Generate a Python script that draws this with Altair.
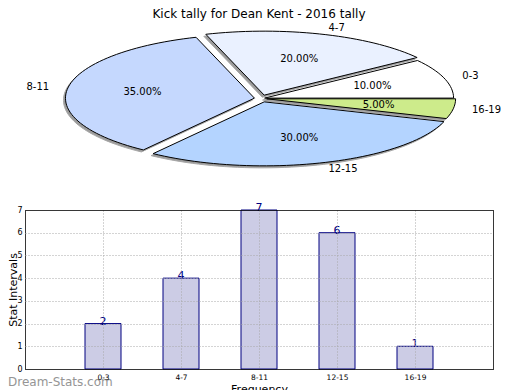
import altair as alt
import pandas as pd
import numpy as np

# ---- data ----
categories = ["0-3", "4-7", "8-11", "12-15", "16-19"]
counts = [2, 4, 7, 6, 1]
pie_colors = ["#ffffff", "#eaf1ff", "#c5d8fe", "#b4d4ff", "#cdeb8b"]
explode = [0.02, 0.055, 0.035, 0.055, 0.03]
title_text = "Kick tally for Dean Kent - 2016 tally"
y_ticks = [0, 1, 2, 3, 4, 5, 6, 7]

# ---- pie geometry (derived from the counts) ----
total = float(sum(counts))
fracs = [c / total for c in counts]
rows, pct_rows, lab_rows = [], [], []
start = 0.0
for i, (cat, f, e) in enumerate(zip(categories, fracs, explode)):
    a0, a1 = start, start + f * 2 * np.pi
    mid = (a0 + a1) / 2
    ox, oy = e * np.cos(mid), e * np.sin(mid)
    angs = np.linspace(a0, a1, max(4, int(f * 180)))
    pts = [(ox, oy)] + [(ox + np.cos(a), oy + np.sin(a)) for a in angs] + [(ox, oy)]
    for k, (u, v) in enumerate(pts):
        rows.append({"slice": cat, "k": k, "u": u, "v": v})
    pct_rows.append({"slice": cat, "u": ox + 0.6 * np.cos(mid), "v": oy + 0.6 * np.sin(mid),
                     "txt": f"{f * 100:.2f}%"})
    lab_rows.append({"slice": cat, "u": ox + 1.1 * np.cos(mid), "v": oy + 1.1 * np.sin(mid),
                     "side": "R" if np.cos(mid) >= 0 else "L"})
    start = a1

pie_df = pd.DataFrame(rows)
pct_df = pd.DataFrame(pct_rows)
lab_df = pd.DataFrame(lab_rows)
bar_df = pd.DataFrame({"idx": list(range(1, len(categories) + 1)), "cat": categories, "count": counts})

FONT = "DejaVu Sans"
xs = alt.Scale(domain=[-1, 1], range=[47, 425], nice=False, zero=False)
ys = alt.Scale(domain=[-1, 1], range=[-47.5, -175.5], nice=False, zero=False)
X = alt.X("u:Q", scale=xs, axis=None)
Y = alt.Y("v:Q", scale=ys, axis=None)

shadow = alt.Chart(pie_df).mark_line(
    fill="#7a7a7a", stroke="#8a8a8a", strokeWidth=1, opacity=0.75, xOffset=-2, yOffset=2
).encode(x=X, y=Y, order="k:Q", detail="slice:N")

slices = alt.Chart(pie_df).mark_line(stroke="black", strokeWidth=1).encode(
    x=X, y=Y, order="k:Q", detail="slice:N",
    fill=alt.Fill("slice:N", scale=alt.Scale(domain=categories, range=pie_colors), legend=None),
)

pct = alt.Chart(pct_df).mark_text(font=FONT, fontSize=10, color="black").encode(
    x=X, y=Y, text="txt:N")
lab_r = alt.Chart(lab_df).transform_filter("datum.side == 'R'").mark_text(
    font=FONT, fontSize=10, align="left", color="black").encode(x=X, y=Y, text="slice:N")
lab_l = alt.Chart(lab_df).transform_filter("datum.side == 'L'").mark_text(
    font=FONT, fontSize=10, align="right", color="black").encode(x=X, y=Y, text="slice:N")

pie = alt.layer(shadow, slices, pct, lab_r, lab_l)

# ---- bar chart ----
n = len(categories)
x_vals = list(range(0, n + 2))
label_list = [""] + categories + [""]
label_expr = "[" + ",".join("'" + s + "'" for s in label_list) + "][datum.value]"
x_edge = f"datum.value == 0 || datum.value == {n + 1}"
y_edge = f"datum.value == 0 || datum.value == {max(y_ticks)}"

bx = alt.X("idx:Q", scale=alt.Scale(domain=[0, n + 1], nice=False, zero=False, padding=0),
           axis=alt.Axis(title="Frequency", values=x_vals, labelExpr=label_expr,
                         labelAngle=0, labelFontSize=7.5, labelFont=FONT, labelColor="black",
                         ticks=False, labelPadding=4, titleFontSize=11, titleFont=FONT,
                         titleFontWeight="normal", titlePadding=3, domain=False, grid=True,
                         gridWidth=1,
                         gridDash={"condition": {"test": x_edge, "value": [1, 0]}, "value": [1, 2]},
                         gridColor={"condition": {"test": x_edge, "value": "black"}, "value": "#a8a8a8"},
                         zindex=1))
by = alt.Y("count:Q", scale=alt.Scale(domain=[0, max(y_ticks)], nice=False, padding=0),
           axis=alt.Axis(title="Stat Intervals", values=y_ticks, labelFontSize=8, labelFont=FONT,
                         labelColor="black", ticks=False, labelPadding=3, titleFontSize=11,
                         titleFont=FONT, titleFontWeight="normal", titleBaseline="alphabetic",
                         titlePadding=0, domain=False,
                         grid=True, gridWidth=1,
                         gridDash={"condition": {"test": y_edge, "value": [1, 0]}, "value": [1, 2]},
                         gridColor={"condition": {"test": y_edge, "value": "black"}, "value": "#a8a8a8"},
                         zindex=1))

bars = alt.Chart(bar_df).mark_bar(size=36, fill="#ccccE5", stroke="#000080", strokeWidth=1).encode(
    x=bx, y=by)
bar_text = alt.Chart(bar_df).mark_text(font=FONT, fontSize=11, color="#000080",
                                       baseline="alphabetic", dy=1).encode(
    x=bx, y=by, text="count:Q")
bar_layer = alt.layer(bars, bar_text)

watermark = alt.Chart(bar_df).transform_filter("datum.idx == 1").mark_text(
    font=FONT, fontSize=12, color="#959595", align="left",
    baseline="alphabetic", text="Dream-Stats.com").encode(x=alt.value(-17), y=alt.value(176))

chart = alt.layer(pie, bar_layer, watermark).resolve_scale(
    x="independent", y="independent", fill="independent"
).properties(
    width=468, height=159,
    padding={"left": 17, "top": 202, "right": 11, "bottom": 21},
    autosize=alt.AutoSizeParams(type="none"),
    title=alt.TitleParams(title_text, font=FONT, fontSize=12, fontWeight="normal",
                          anchor="middle", offset=2, color="black"),
).configure_view(stroke=None).configure(background="white")

chart.save("out.html", embed_options={"renderer": "svg", "actions": False})
